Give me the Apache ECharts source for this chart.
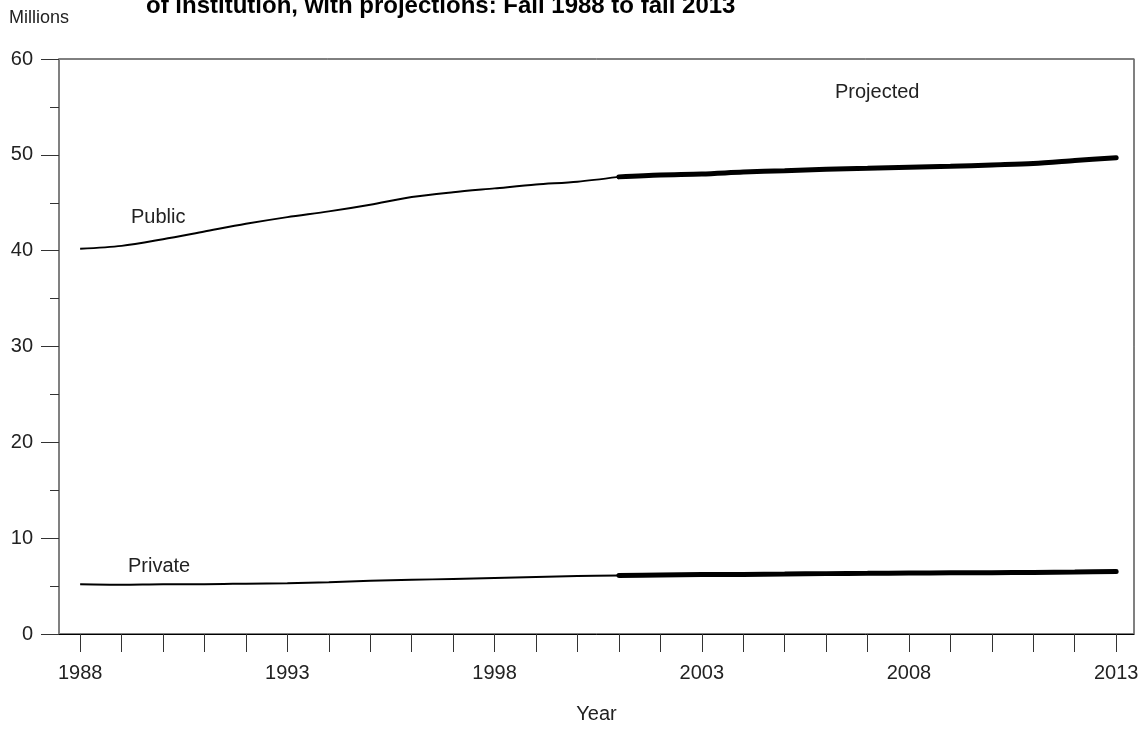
<!DOCTYPE html>
<html>
<head>
<meta charset="utf-8">
<script src="https://cdn.jsdelivr.net/npm/echarts@6/dist/echarts.min.js"></script>
<style>
html,body{margin:0;padding:0;background:#fff;}
#chart{width:1146px;height:729px;}
</style>
</head>
<body>
<div id="chart"></div>
<script>
// Data (millions of students)
var histYears = [1988,1989,1990,1991,1992,1993,1994,1995,1996,1997,1998,1999,2000,2001];
var histPublic = [40.2,40.5,41.2,42.0,42.8,43.5,44.1,44.8,45.6,46.1,46.5,46.9,47.2,47.7];
var histPrivate = [5.2,5.15,5.2,5.2,5.25,5.3,5.4,5.55,5.65,5.75,5.85,5.95,6.05,6.1];
var projYears = [2001,2002,2003,2004,2005,2006,2007,2008,2009,2010,2011,2012,2013];
var projPublic = [47.7,47.9,48.0,48.2,48.35,48.5,48.6,48.7,48.8,48.95,49.1,49.4,49.7];
var projPrivate = [6.1,6.15,6.2,6.22,6.25,6.3,6.33,6.36,6.38,6.4,6.43,6.47,6.52];
var allYears = [1988,1989,1990,1991,1992,1993,1994,1995,1996,1997,1998,1999,2000,2001,2002,2003,2004,2005,2006,2007,2008,2009,2010,2011,2012,2013];
var xLabelYears = [1988,1993,1998,2003,2008,2013];

function pairs(xs, ys){ return xs.map(function(x,i){ return [x, ys[i]]; }); }

var FONT = '"Liberation Sans", Arial, sans-serif';
var chart = echarts.init(document.getElementById('chart'));
var histStyle = {color:'#000', width:2};
var projStyle = {color:'#000', width:5, cap:'round'};

chart.setOption({
  animation:false,
  backgroundColor:'#fff',
  textStyle:{fontFamily:FONT},
  grid:{left:59, right:12, top:59, bottom:93, show:true, borderColor:'#000', borderWidth:1},
  xAxis:{
    type:'value', min:1987.49, max:2013.43,
    name:'Year', nameLocation:'middle', nameGap:70,
    nameTextStyle:{fontSize:20, color:'#222', fontFamily:FONT},
    axisLine:{show:true, lineStyle:{color:'#000', width:1}},
    axisTick:{show:true, inside:false, length:18, customValues:allYears, lineStyle:{color:'#333', width:1}},
    axisLabel:{fontSize:20, color:'#222', margin:29, fontFamily:FONT, customValues:xLabelYears,
      formatter:function(v){ return String(v); }},
    splitLine:{show:false}
  },
  yAxis:[{
    type:'value', min:0, max:60, interval:10,
    axisLine:{show:true, lineStyle:{color:'#808080', width:2}},
    axisTick:{show:true, length:18, lineStyle:{color:'#333', width:1}},
    minorTick:{show:true, splitNumber:2, length:9, lineStyle:{color:'#333', width:1}},
    axisLabel:{fontSize:20, color:'#222', margin:26, fontFamily:FONT},
    splitLine:{show:false}
  },{
    type:'value', min:0, max:60, position:'right',
    axisLine:{show:true, lineStyle:{color:'#808080', width:1.5}},
    axisTick:{show:false}, axisLabel:{show:false}, splitLine:{show:false}
  }],
  graphic:[
    {type:'text', left:9, top:9, style:{text:'Millions', fontSize:18, fill:'#222', fontFamily:FONT}},
    {type:'text', left:146, top:-6, style:{text:'of institution, with projections: Fall 1988 to fall 2013', fontSize:24, fontWeight:'bold', fill:'#000', fontFamily:FONT}},
    {type:'text', left:131, top:207, style:{text:'Public', fontSize:20, fill:'#222', fontFamily:FONT}},
    {type:'text', left:128, top:556, style:{text:'Private', fontSize:20, fill:'#222', fontFamily:FONT}},
    {type:'text', left:835, top:82, style:{text:'Projected', fontSize:20, fill:'#222', fontFamily:FONT}}
  ],
  series:[
    {type:'line', data:pairs(histYears, histPublic), smooth:0.3, symbol:'none', lineStyle:histStyle},
    {type:'line', data:pairs(histYears, histPrivate), smooth:0.3, symbol:'none', lineStyle:histStyle},
    {type:'line', data:pairs(projYears, projPublic), smooth:0.3, symbol:'none', lineStyle:projStyle},
    {type:'line', data:pairs(projYears, projPrivate), smooth:0.3, symbol:'none', lineStyle:projStyle}
  ]
});
</script>
</body>
</html>
